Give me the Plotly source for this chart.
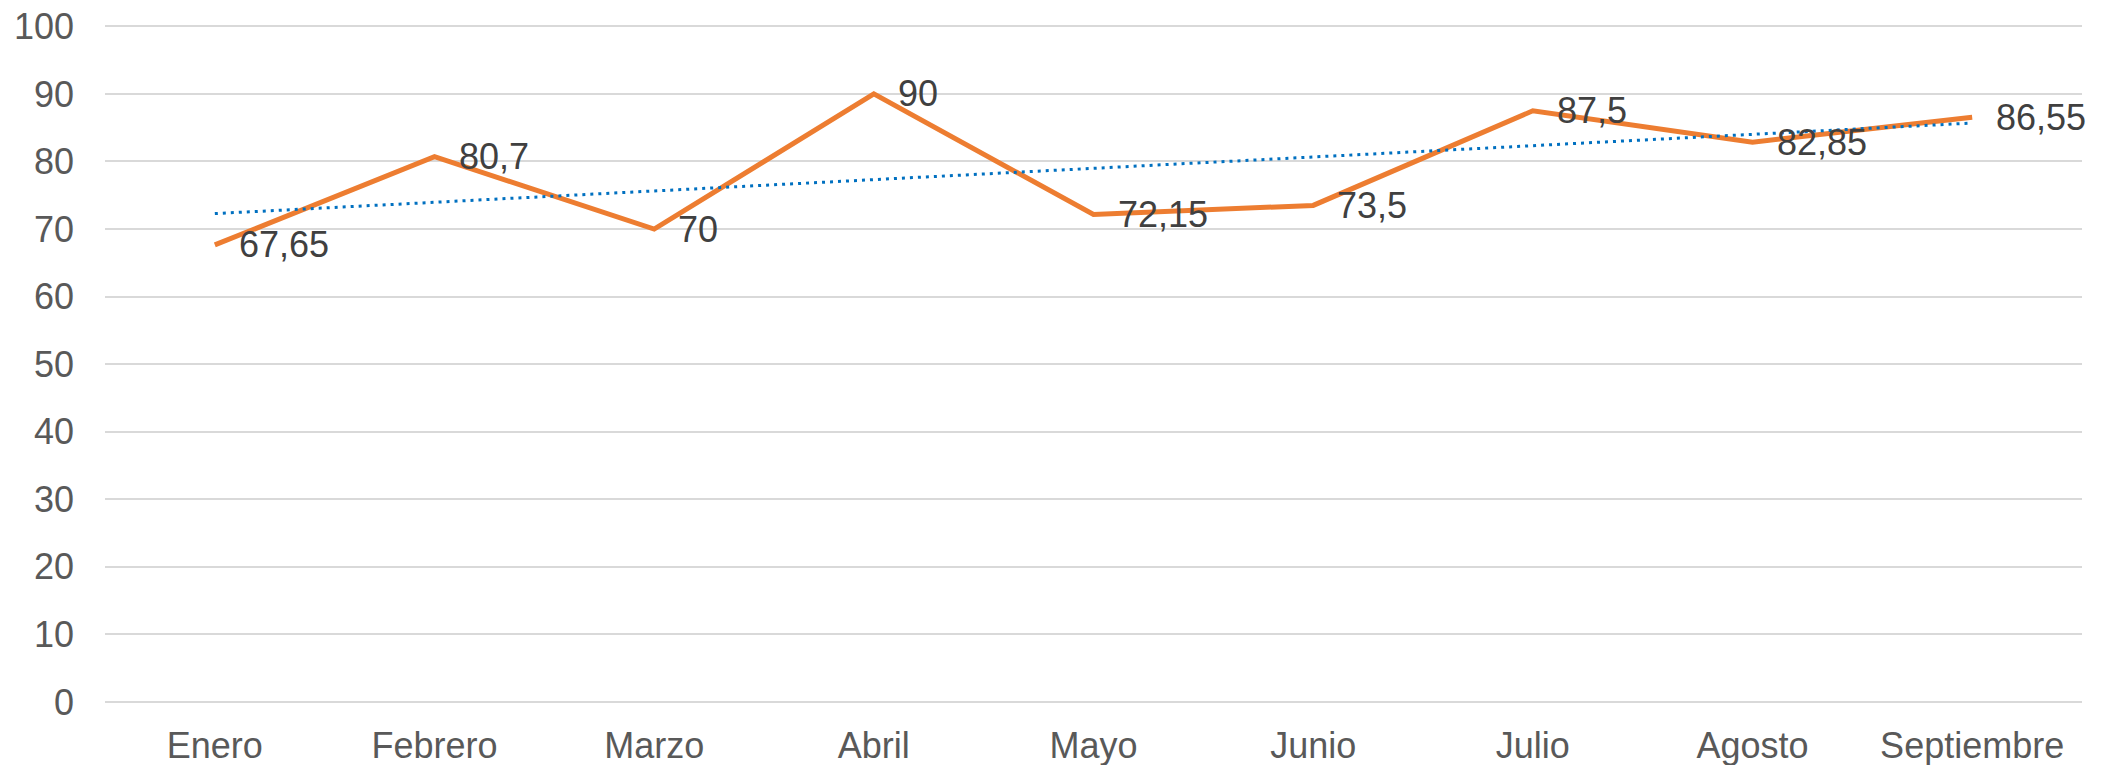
import numpy as np
import plotly.graph_objects as go

months = ["Enero", "Febrero", "Marzo", "Abril", "Mayo", "Junio", "Julio", "Agosto", "Septiembre"]
values = [67.65, 80.7, 70, 90, 72.15, 73.5, 87.5, 82.85, 86.55]
y_ticks = [0, 10, 20, 30, 40, 50, 60, 70, 80, 90, 100]

# Linear trend line (Excel-style), derived from the series values
xi = np.arange(1, len(values) + 1)
slope, intercept = np.polyfit(xi, values, 1)
trend = list(slope * xi + intercept)

FONT = "Liberation Sans, Arial, sans-serif"
FS = 36

fig = go.Figure()
fig.add_trace(go.Scatter(
    x=months, y=values, mode="lines",
    line=dict(color="#ED7D31", width=5),
    showlegend=False, hoverinfo="skip",
))
fig.add_trace(go.Scatter(
    x=months, y=trend, mode="lines",
    line=dict(color="#0070C0", width=3, dash="3px,5px"),
    showlegend=False, hoverinfo="skip",
))

def fmt(v):
    s = ("%.2f" % v).rstrip("0").rstrip(".")
    return s.replace(".", ",")

for m, v in zip(months, values):
    fig.add_annotation(
        x=m, y=v, text=fmt(v), showarrow=False,
        xanchor="left", yanchor="middle", xshift=22,
        font=dict(family=FONT, size=FS, color="#404040"),
    )

fig.update_layout(
    width=2120, height=765,
    margin=dict(l=105, r=38, t=25, b=63),
    paper_bgcolor="white", plot_bgcolor="white",
    font=dict(family=FONT, size=FS, color="#595959"),
)
fig.update_xaxes(
    range=[-0.5, len(months) - 0.5],
    showgrid=False, showline=False, zeroline=False, automargin=False,
    ticks="", ticklabelstandoff=19, ticklabeloverflow="allow",
    tickfont=dict(family=FONT, size=FS, color="#595959"),
)
fig.update_yaxes(
    range=[0, 100.2], tickvals=y_ticks, automargin=False,
    showgrid=True, gridcolor="#D9D9D9", gridwidth=1.5,
    zeroline=True, zerolinecolor="#D9D9D9", zerolinewidth=1.5,
    showline=False, ticks="", ticklabelstandoff=30, ticklabeloverflow="allow",
    tickfont=dict(family=FONT, size=FS, color="#595959"),
)

# remove the browser's default body margin so the figure fills the window exactly
fig.write_html(
    "out.html",
    config={"displayModeBar": False},
    post_script="document.body.style.margin='0';document.body.style.overflow='hidden';",
)
